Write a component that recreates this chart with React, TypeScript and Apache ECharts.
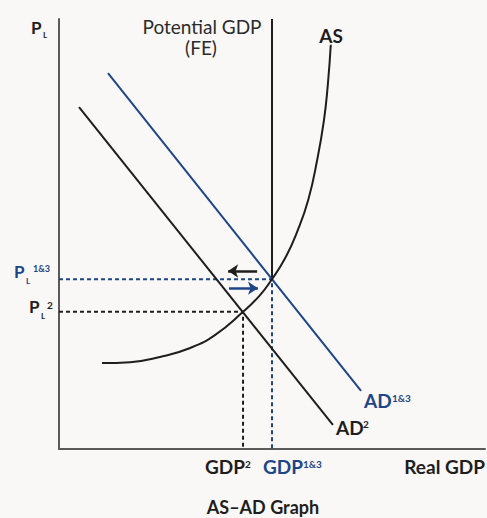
import React, { useEffect, useRef } from "react";
import * as echarts from "echarts";

// Chart units: x 0..10 (Real GDP), y 0..10 (price level)
const adHigh: number[][] = [[1.15, 8.74], [7.09, 1.35]]; // AD 1&3
const adLow: number[][] = [[0.47, 7.95], [6.43, 0.56]]; // AD 2
const asCurve: number[][] = [
  [1.01, 2.0], [1.67, 2.02], [2.37, 2.14], [3.08, 2.35], [3.66, 2.65],
  [4.32, 3.19], [4.72, 3.58], [5.0, 3.95], [5.31, 4.44], [5.59, 5.05],
  [5.85, 5.79], [6.06, 6.72], [6.22, 7.65], [6.31, 8.47], [6.38, 9.4],
];
const gdpFE = 5.0;
const gdp2 = 4.32;
const pl13 = 3.95;
const pl2 = 3.19;
const axisMax = 10;
const arrowLeft: number[][] = [[4.65, 4.14], [3.97, 4.14]];
const arrowRight: number[][] = [[3.99, 3.74], [4.67, 3.74]];

const BLUE = "#1f4589";
const BLACK = "#1e1e1e";
const FONT = "Lato, 'Open Sans', sans-serif";

function txt(text: string, x: number, y: number, size: number, color: string, bold: boolean, align = "left") {
  return {
    type: "text",
    x,
    y,
    silent: true,
    style: {
      text,
      fill: color,
      font: `${bold ? "bold " : ""}${size}px ${FONT}`,
      textAlign: align,
      textVerticalAlign: "middle",
    },
  };
}

export default function App() {
  const ref = useRef<HTMLDivElement>(null);
  useEffect(() => {
    document.body.style.margin = "0";
    document.body.style.background = "#f9f8f7";
    const chart = echarts.init(ref.current!, undefined, { renderer: "svg" });
    const lineBase = { type: "line", symbol: "none", silent: true, z: 3 };
    chart.setOption({
      animation: false,
      backgroundColor: "#f9f8f7",
      grid: { left: 59, right: 2, top: 19, bottom: 69 },
      xAxis: {
        type: "value", min: 0, max: axisMax,
        axisLine: { lineStyle: { color: "#5a5a5a", width: 2 } },
        axisTick: { show: false }, axisLabel: { show: false }, splitLine: { show: false },
      },
      yAxis: {
        type: "value", min: 0, max: axisMax,
        axisLine: { show: true, lineStyle: { color: "#5a5a5a", width: 2 } },
        axisTick: { show: false }, axisLabel: { show: false }, splitLine: { show: false },
      },
      series: [
        { ...lineBase, name: "PL13", data: [[0, pl13], [gdpFE, pl13], [gdpFE, 0]], lineStyle: { color: BLUE, width: 2, type: [4, 3] }, z: 2 },
        { ...lineBase, name: "PL2", data: [[0, pl2], [gdp2, pl2], [gdp2, 0]], lineStyle: { color: BLACK, width: 2, type: [4, 3] }, z: 2 },
        { ...lineBase, name: "FE", data: [[gdpFE, pl13], [gdpFE, axisMax]], lineStyle: { color: BLACK, width: 2 } },
        { ...lineBase, name: "AD13", data: adHigh, lineStyle: { color: BLUE, width: 2 } },
        { ...lineBase, name: "AD2", data: adLow, lineStyle: { color: BLACK, width: 2 } },
        { ...lineBase, name: "AS", data: asCurve, smooth: 0.5, lineStyle: { color: BLACK, width: 2 } },
        {
          type: "lines", coordinateSystem: "cartesian2d", silent: true, z: 4,
          symbol: ["none", "arrow"], symbolSize: 10,
          data: [
            { coords: arrowLeft, lineStyle: { color: BLACK, width: 2.5, opacity: 1 } },
            { coords: arrowRight, lineStyle: { color: BLUE, width: 2.5, opacity: 1 } },
          ],
        },
      ],
      graphic: [
        txt("P", 31, 27, 17, BLACK, true),
        txt("L", 43, 35, 8, BLACK, true),
        txt("Potential GDP", 202, 26, 19, "#2b2b2b", false, "center"),
        txt("(FE)", 201, 47, 19, "#2b2b2b", false, "center"),
        txt("AS", 331, 35, 19, BLACK, true, "center"),
        txt("P", 14, 271.5, 17, BLUE, true),
        txt("L", 26, 281, 8, BLUE, true),
        txt("1&3", 33, 268.5, 9, BLUE, true),
        txt("P", 29, 306.5, 17, BLACK, true),
        txt("L", 41, 316, 8, BLACK, true),
        txt("2", 47, 304.5, 10, BLACK, true),
        txt("AD", 364, 400.5, 19, BLUE, true),
        txt("1&3", 392, 397.5, 10, BLUE, true),
        txt("AD", 336, 427, 19, BLACK, true),
        txt("2", 363, 424, 10, BLACK, true),
        txt("GDP", 205, 466.5, 19, BLACK, true),
        txt("2", 245, 463.5, 10, BLACK, true),
        txt("GDP", 263, 466.5, 19, BLUE, true),
        txt("1&3", 303, 463.5, 10, BLUE, true),
        txt("Real GDP", 485, 466.5, 19, BLACK, true, "right"),
        txt("AS\u2013AD Graph", 263, 507, 18, BLACK, true, "center"),
      ],
    });
    return () => chart.dispose();
  }, []);
  return <div ref={ref} style={{ position: "fixed", left: 0, top: 0, width: 487, height: 518 }} />;
}
